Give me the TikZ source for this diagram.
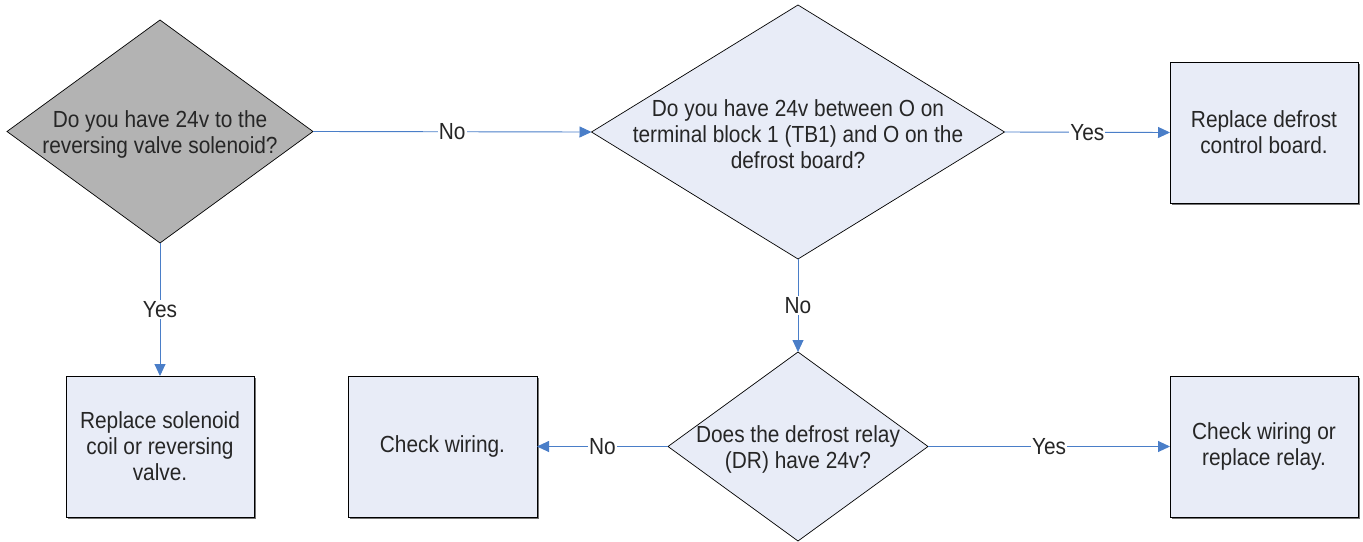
\documentclass[tikz,border=0pt]{standalone}
\usepackage{fontspec}
\setmainfont{Liberation Sans}[FakeStretch=0.895]
\usetikzlibrary{shapes.geometric,arrows.meta,shadows}
\definecolor{lightfill}{HTML}{E8ECF7}
\definecolor{grayfill}{HTML}{B3B3B3}
\definecolor{arrowblue}{HTML}{4A7EC8}
\definecolor{txt}{HTML}{262626}
\begin{document}
\begin{tikzpicture}[x=1pt,y=-1pt,
  every node/.style={font=\fontsize{23.3}{26}\selectfont, text=txt},
  decision/.style={diamond, draw=black, line width=0.7pt, inner sep=0pt, outer sep=0pt, fill=lightfill},
  qtext/.style={align=center, inner sep=0pt, yshift=-2.5pt},
  actbox/.style={rectangle, draw=black, line width=0.7pt, fill=lightfill, inner sep=0pt, outer sep=0pt,
    minimum width=188pt, minimum height=141pt, align=center,
    drop shadow={shadow xshift=1.5pt, shadow yshift=-1.5pt, fill=black!55, opacity=1}},
  conn/.style={draw=arrowblue, line width=0.9pt, -{Triangle[length=12pt,width=11pt]}},
  lab/.style={fill=white, inner sep=1pt}
]
\useasboundingbox (0,0) rectangle (1363,541);

\node[decision, fill=grayfill, minimum width=306pt, minimum height=223pt] (d1) at (160,131.5) {};
\node[qtext] (t1) at (d1.center) {Do you have 24v to the\\reversing valve solenoid?};

\node[decision, minimum width=413pt, minimum height=254pt] (d2) at (798,132) {};
\node[qtext] (t2) at (d2.center) {Do you have 24v between O on\\terminal block 1 (TB1) and O on the\\defrost board?};

\node[decision, minimum width=260pt, minimum height=189pt] (d3) at (798,446.5) {};
\node[qtext] (t3) at (d3.center) {Does the defrost relay\\(DR) have 24v?};

\node[actbox] (b2) at (1264,132.5) {Replace defrost\\control board.};
\node[actbox] (b1) at (160,446.5) {Replace solenoid\\coil or reversing\\valve.};
\node[actbox, minimum width=189pt] (b3) at (442.5,446.5) {Check wiring.};
\node[actbox] (b4) at (1264,446.5) {Check wiring or\\replace relay.};

\draw[conn] (d1.east) -- node[lab, midway] {No} (d2.west);
\draw[conn] (d2.east) -- node[lab, midway] {Yes} (b2.west);
\draw[conn] (d1.south) -- node[lab, midway] {Yes} (b1.north);
\draw[conn] (d2.south) -- node[lab, midway] {No} (d3.north);
\draw[conn] (d3.west) -- node[lab, midway] {No} (b3.east);
\draw[conn] (d3.east) -- node[lab, midway] {Yes} (b4.west);
\end{tikzpicture}
\end{document}
